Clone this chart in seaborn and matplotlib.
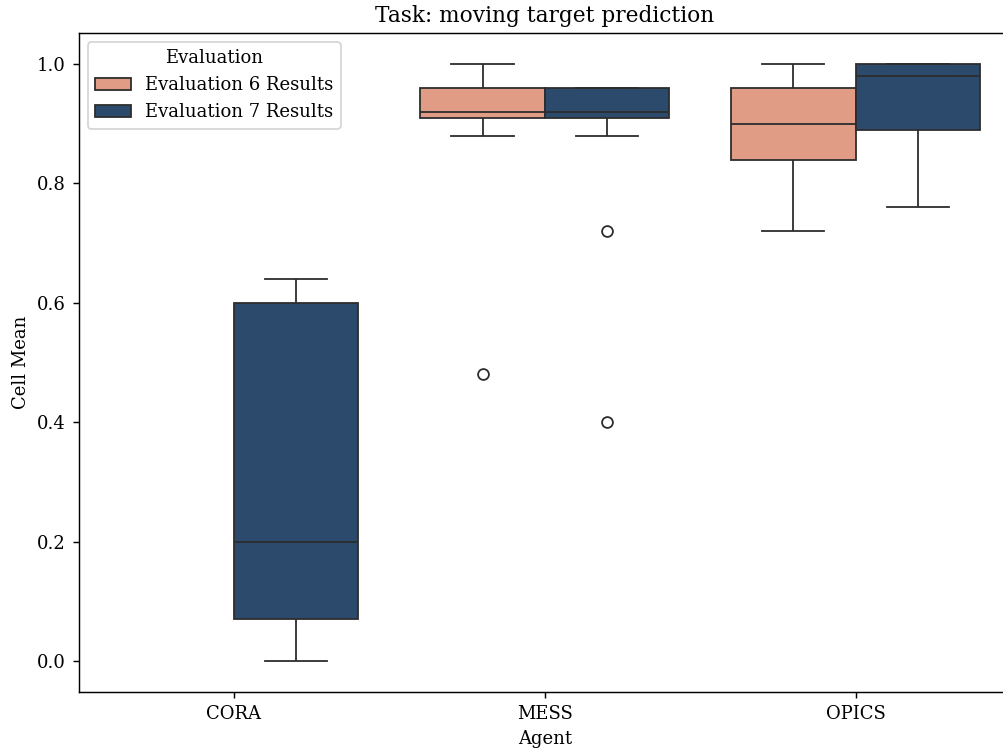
import matplotlib
matplotlib.use("Agg")
import matplotlib.pyplot as plt
import seaborn as sns
import pandas as pd

agents = ["CORA", "MESS", "OPICS"]
hue_labels = ["Evaluation 6 Results", "Evaluation 7 Results"]
colors = ["#E09C84", "#2C4A6B"]

cora_eval7 = [0.0, 0.07, 0.2, 0.6, 0.64]
mess_eval6 = [0.48, 0.88, 0.92, 0.92, 0.92, 0.96, 0.96, 1.0]
mess_eval7 = [0.40, 0.72, 0.88, 0.92, 0.92, 0.92, 0.92, 0.96, 0.96, 0.96, 0.96, 0.96]
opics_eval6 = [0.72, 0.84, 0.84, 0.88, 0.92, 0.96, 0.96, 1.0]
opics_eval7 = [0.76, 0.80, 0.92, 0.96, 1.0, 1.0, 1.0, 1.0]

rows = []
for agent, ev, vals in [
    ("CORA", hue_labels[1], cora_eval7),
    ("MESS", hue_labels[0], mess_eval6),
    ("MESS", hue_labels[1], mess_eval7),
    ("OPICS", hue_labels[0], opics_eval6),
    ("OPICS", hue_labels[1], opics_eval7),
]:
    for v in vals:
        rows.append({"Agent": agent, "Evaluation": ev, "Cell Mean": v})
df = pd.DataFrame(rows)

plt.rcParams['font.family'] = ['DejaVu Serif']

DPI = 130
fig = plt.figure(figsize=(1003 / DPI, 748 / DPI), dpi=DPI)
ax = fig.add_axes([78.5 / 1003, 56 / 748, 932.5 / 1003, 659 / 748])

sns.boxplot(data=df, x="Agent", y="Cell Mean", hue="Evaluation",
            order=agents, hue_order=hue_labels,
            palette=colors, saturation=1, ax=ax)

ax.set_title("Task: moving target prediction")
ax.set_xlabel("Agent")
ax.set_ylabel("Cell Mean")
ax.set_xlim(-0.5, 2.5)
ax.set_ylim(-0.052, 1.052)
ax.set_yticks([0.0, 0.2, 0.4, 0.6, 0.8, 1.0])
ax.spines['right'].set_visible(False)
ax.legend(title="Evaluation", loc="upper left")

fig.savefig("out.png", dpi=DPI)
